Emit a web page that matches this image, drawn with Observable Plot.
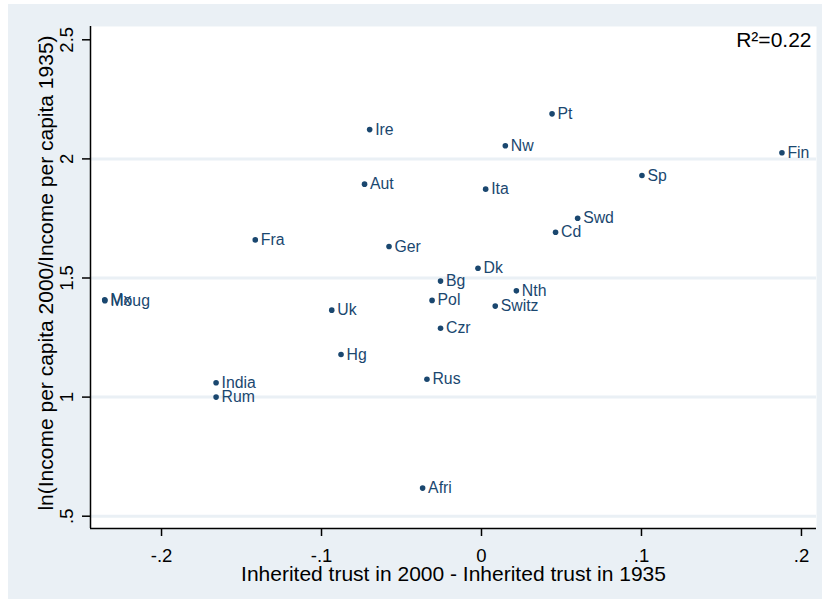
<!DOCTYPE html>
<html><head><meta charset="utf-8">
<script src="https://cdn.jsdelivr.net/npm/d3@7"></script>
<script src="https://cdn.jsdelivr.net/npm/@observablehq/plot@0.6"></script>
<style>
html,body{margin:0;padding:0;background:#fff;}
#wrap{position:relative;width:827px;height:611px;overflow:hidden;}
#bg{position:absolute;left:8px;top:4px;width:814px;height:595px;background:#eaf0f5;}
#chart{position:absolute;left:0;top:0;}
</style></head><body>
<div id="wrap"><div id="bg"></div><div id="chart"></div></div>
<script>
// Data
const countries = ["Pt","Ire","Nw","Fin","Sp","Aut","Ita","Swd","Cd","Fra","Ger","Dk","Bg","Nth","Pol","Switz","Uk","Czr","Hg","Rus","India","Rum","Afri","Mx","Moug"];
const trustChange = [0.0441,-0.0699,0.0149,0.1878,0.1003,-0.0731,0.0026,0.0601,0.0463,-0.1414,-0.0578,-0.0022,-0.0256,0.0218,-0.0309,0.0086,-0.0936,-0.0256,-0.0878,-0.0341,-0.1659,-0.1659,-0.0368,-0.2355,-0.2354];
const incomeGrowth = [2.189,2.123,2.055,2.026,1.930,1.894,1.873,1.751,1.692,1.660,1.632,1.541,1.487,1.446,1.406,1.382,1.365,1.289,1.179,1.075,1.060,1.000,0.618,1.409,1.405];

const xTicks = [-0.2,-0.1,0,0.1,0.2];
const xTickLabels = ["-.2","-.1","0",".1",".2"];
const yTicks = [0.5,1,1.5,2,2.5];
const yTickLabels = [".5","1","1.5","2","2.5"];
const gridValues = [0.5,1,1.5,2];
const xTitle = "Inherited trust in 2000 - Inherited trust in 1935";
const yTitle = "ln(Income per capita 2000/Income per capita 1935)";
const noteText = "R²=0.22";

const xDomain = [-0.2444, 0.2094];
const yDomain = [0.4484, 2.5558];

const data = countries.map((c, i) => ({name: c, x: trustChange[i], y: incomeGrowth[i]}));
const navy = "#1a476f";
const gridColor = "#eaf0f5";

const chart = Plot.plot({
  width: 827,
  height: 611,
  marginLeft: 90,
  marginRight: 11,
  marginTop: 26,
  marginBottom: 83,
  style: {fontFamily: "'Liberation Sans', Arial, Helvetica, sans-serif", background: "transparent", color: "black", overflow: "visible"},
  x: {domain: xDomain},
  y: {domain: yDomain},
  marks: [
    Plot.frame({fill: "white", stroke: "none"}),
    Plot.ruleY(gridValues, {stroke: gridColor, strokeWidth: 3}),
    Plot.ruleX([xDomain[0]], {stroke: "black", strokeWidth: 1.5}),
    Plot.ruleY([yDomain[0]], {stroke: "black", strokeWidth: 1.5}),
    Plot.axisX({ticks: xTicks, tickFormat: d => xTickLabels[xTicks.indexOf(d)], tickSize: 8, tickPadding: 11.9, fontSize: 18.5, strokeWidth: 1.5, label: null}),
    Plot.axisY({ticks: yTicks, tickFormat: d => yTickLabels[yTicks.indexOf(d)], tickSize: 8, tickPadding: 9.7, tickRotate: -90, fontSize: 18.5, strokeWidth: 1.5, label: null}),
    Plot.text([xTitle], {text: d => d, frameAnchor: "bottom", lineAnchor: "bottom", dy: 52.5, fontSize: 21, fill: "black"}),
    Plot.text([yTitle], {text: d => d, frameAnchor: "left", textAnchor: "middle", lineAnchor: "bottom", rotate: -90, dx: -37.5, dy: -4.5, fontSize: 21, fill: "black"}),
    Plot.text([noteText], {text: d => d, frameAnchor: "top-right", textAnchor: "end", lineAnchor: "top", dx: -5, dy: 5.8, fontSize: 21, fill: "black"}),
    Plot.dot(data, {x: "x", y: "y", r: 2.8, fill: navy, stroke: "none"}),
    Plot.text(data, {x: "x", y: "y", text: "name", textAnchor: "start", dx: 5.5, fontSize: 15.8, fill: navy})
  ]
});
document.getElementById("chart").appendChild(chart);
</script>
</body></html>
